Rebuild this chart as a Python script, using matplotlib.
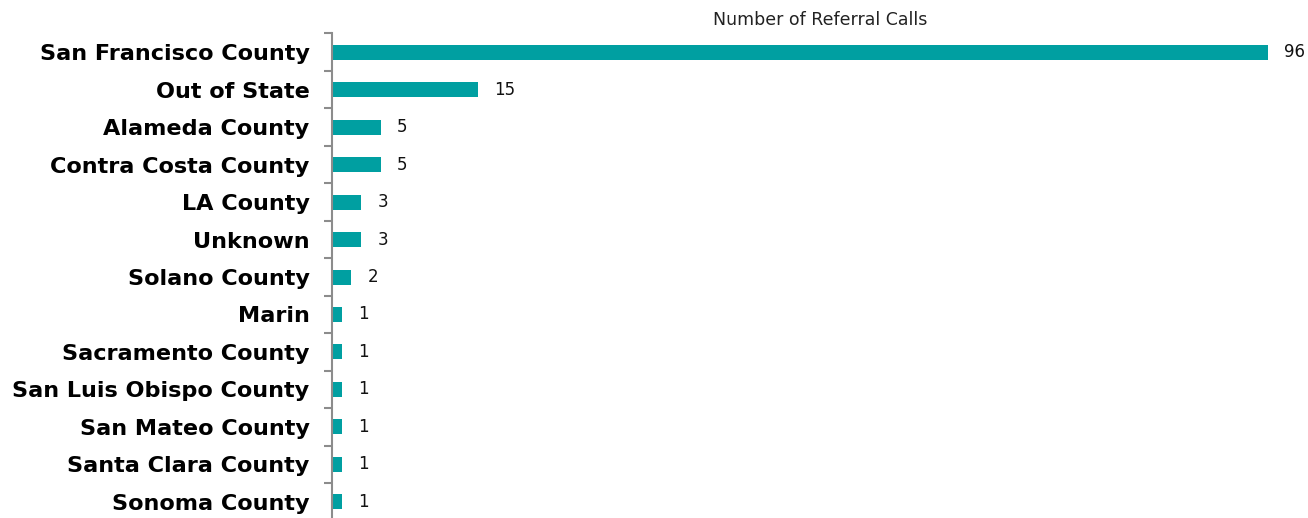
import matplotlib.pyplot as plt
import numpy as np

# Referral calls by county
counties = ["San Francisco County", "Out of State", "Alameda County", "Contra Costa County",
            "LA County", "Unknown", "Solano County", "Marin", "Sacramento County",
            "San Luis Obispo County", "San Mateo County", "Santa Clara County", "Sonoma County"]
calls = [96, 15, 5, 5, 3, 3, 2, 1, 1, 1, 1, 1, 1]

bar_color = "#009FA1"
axis_color = "#8C8C8C"

fig = plt.figure(figsize=(13.08, 5.18), dpi=100)
ax = fig.add_axes([0.2538, -0.0053, 0.7454, 0.9411])

y = np.arange(len(counties))
ax.barh(y, calls, height=0.4, color=bar_color)
ax.set_ylim(len(counties) - 0.5, -0.5)
ax.set_xlim(0, 100)

for yi, v in zip(y, calls):
    ax.annotate(str(v), xy=(v, yi), xytext=(11.5, 0), textcoords="offset points",
                ha="left", va="center", fontsize=12, color="#111111")

# category labels on the left, boundary ticks on the axis line
ax.set_yticks(y)
ax.set_yticklabels(counties, fontsize=16.1, fontweight="bold")
ax.tick_params(axis="y", which="major", length=0, pad=16)
ax.set_yticks(np.arange(len(counties) + 1) - 0.5, minor=True)
ax.tick_params(axis="y", which="minor", length=6, width=1.5, color=axis_color)

ax.set_xticks([])
for side in ["top", "right", "bottom"]:
    ax.spines[side].set_visible(False)
ax.spines["left"].set_color(axis_color)
ax.spines["left"].set_linewidth(1.5)

fig.text(0.627, 0.962, "Number of Referral Calls", ha="center", va="center",
         fontsize=12.5, color="#222222")

fig.savefig("out.png", dpi=100)
